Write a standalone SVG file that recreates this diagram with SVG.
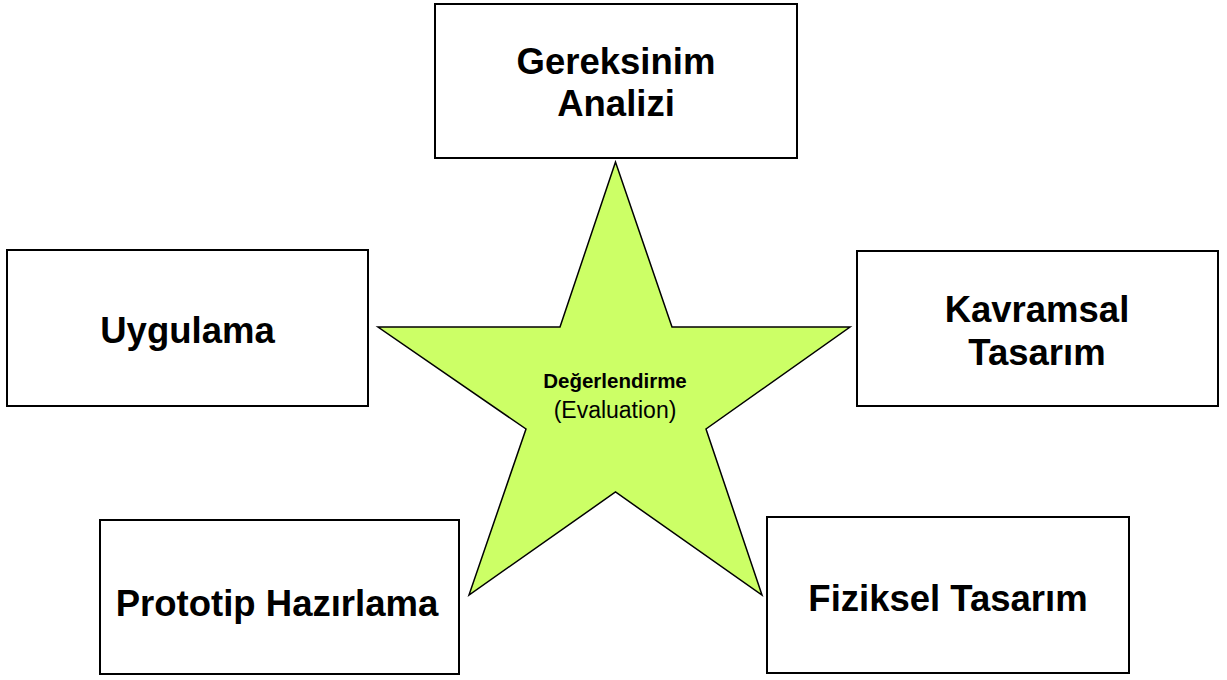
<svg xmlns="http://www.w3.org/2000/svg" width="1227" height="680" viewBox="0 0 1227 680">
<style>
.box{fill:#ffffff;stroke:#000000;stroke-width:2}
.lbl{font-family:"Liberation Sans",Arial,sans-serif;font-weight:bold;font-size:36.5px;fill:#000000;text-anchor:middle}
.star{fill:#CCFF66;stroke:#000000;stroke-width:1.5;stroke-linejoin:miter}
.st1{font-family:"Liberation Sans",Arial,sans-serif;font-weight:bold;font-size:20.5px;fill:#000000;text-anchor:middle}
.st2{font-family:"Liberation Sans",Arial,sans-serif;font-size:23px;fill:#000000;text-anchor:middle}
</style>
<rect width="1227" height="680" fill="#ffffff"/>
<g id="connectors"></g>
<g id="gereksinim">
<rect class="box" x="435" y="4" width="362" height="154"/>
<text class="lbl" x="616" y="74">Gereksinim</text>
<text class="lbl" x="616" y="116">Analizi</text>
</g>
<g id="uygulama">
<rect class="box" x="7" y="250" width="361" height="156"/>
<text class="lbl" x="187.5" y="343">Uygulama</text>
</g>
<g id="kavramsal">
<rect class="box" x="857" y="251" width="361" height="155"/>
<text class="lbl" x="1037" y="322">Kavramsal</text>
<text class="lbl" x="1037" y="365">Tasarım</text>
</g>
<g id="prototip">
<rect class="box" x="100" y="520" width="359" height="154"/>
<text class="lbl" x="277" y="616">Prototip Hazırlama</text>
</g>
<g id="fiziksel">
<rect class="box" x="767" y="517" width="362" height="156"/>
<text class="lbl" x="948" y="611">Fiziksel Tasarım</text>
</g>
<g id="degerlendirme">
<polygon class="star" points="615.5,162 560,327 378,327 526,429 469,595 615.5,492 762,595 706,429 850,327 672,327"/>
<text class="st1" x="615" y="388">Değerlendirme</text>
<text class="st2" x="615" y="418">(Evaluation)</text>
</g>
</svg>
